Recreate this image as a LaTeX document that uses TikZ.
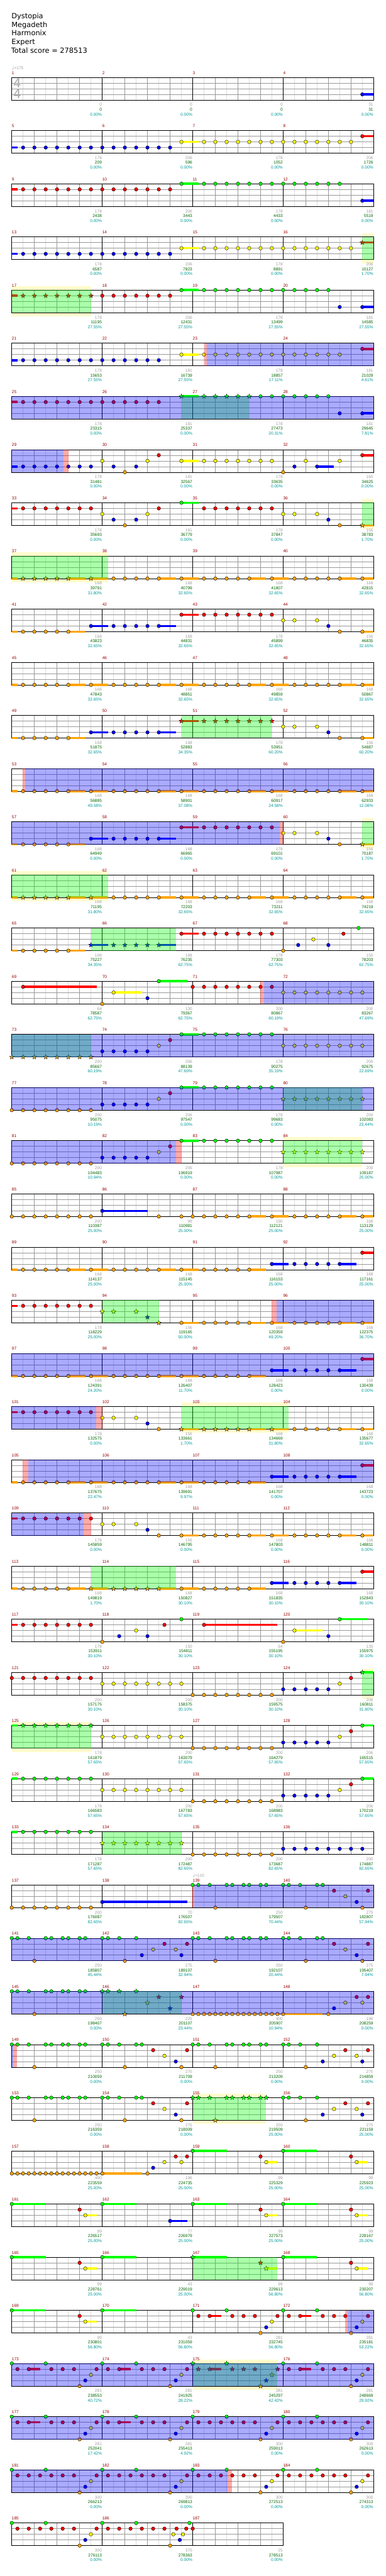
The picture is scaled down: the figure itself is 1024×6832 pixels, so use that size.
\documentclass[tikz,border=0pt]{standalone}
\usepackage{fontspec}
\setmainfont{Liberation Sans}
\newfontfamily\headfont{DejaVu Sans}
\usetikzlibrary{positioning}

\definecolor{ln0}{HTML}{00FF00}
\definecolor{ln1}{HTML}{FF0000}
\definecolor{ln2}{HTML}{FFFF00}
\definecolor{ln3}{HTML}{0000FF}
\definecolor{ln4}{HTML}{FFA500}
\definecolor{numred}{HTML}{990000}
\definecolor{ptsgray}{HTML}{A0A0A0}
\definecolor{totgreen}{HTML}{006600}
\definecolor{pctteal}{HTML}{009999}
\definecolor{beatgray}{HTML}{999999}
\definecolor{halfgray}{HTML}{DDDDDD}
\definecolor{siggray}{HTML}{AAAAAA}

\pgfdeclarelayer{bands}
\pgfdeclarelayer{glass}
\pgfsetlayers{bands,main,glass}

\tikzset{
  rowsc/.style={shift={(31.3pt,{-205.3pt-141pt*(#1-1)})},x=30pt,y=-15pt},
  gem/.style={draw=black,line width=0.7pt},
  tail/.style={line width=6pt},
  halfline/.style={halfgray,line width=1pt},
  beatline/.style={beatgray,line width=1pt},
  barline/.style={black,line width=1pt},
  smalltext/.style={inner sep=0pt,font=\fontsize{11}{11}\selectfont},
  barlabel/.style={smalltext,anchor=base west,text=numred},
  ptsnum/.style={smalltext,anchor=base east,text=ptsgray},
  totnum/.style={smalltext,anchor=base east,text=totgreen},
  pctnum/.style={smalltext,anchor=base east,text=pctteal},
  tempomark/.style={smalltext,anchor=base west,text=ptsgray},
  headline/.style={anchor=base west,inner sep=0pt,font=\headfont\fontsize{19}{19}\selectfont},
  tsig/.style={inner sep=0pt,text=siggray,font=\headfont\fontsize{33}{33}\selectfont},
  gemstar/.pic={\filldraw[fill=#1,draw=black,line width=0.5pt] (90:6.5pt) -- (126:2.7pt) -- (162:6.5pt) -- (198:2.7pt) -- (234:6.5pt) -- (270:2.7pt) -- (306:6.5pt) -- (342:2.7pt) -- (18:6.5pt) -- (54:2.7pt) -- cycle;}
}

\newcommand\staff[3]{%
  \begin{scope}[rowsc=#1]
    \pgfmathtruncatemacro\lastx{8*#3}
    \fill[white] (0,0) rectangle (\lastx,4);
    \foreach \gx in {1,3,...,\lastx} \draw[halfline] (\gx,0) -- (\gx,4);
    \foreach \gx in {2,4,...,\lastx} \draw[beatline] (\gx,0) -- (\gx,4);
    \foreach \gy in {1,2,3} \draw[beatline] (0,\gy) -- (\lastx,\gy);
    \foreach \gx in {8,16,...,\lastx} \draw[barline] (\gx,0) -- (\gx,4);
    \draw[barline] (0,0) rectangle (\lastx,4);
    \foreach \idx in {1,...,#3} {%
      \pgfmathtruncatemacro\mnum{#2+\idx-1}
      \node[barlabel] (bar\mnum) at ({8*(\idx-1)},-0.55) {\mnum};}
  \end{scope}}
\newcommand\gems[3]{\begin{scope}[rowsc=#1]
  \foreach \pos in {#3} \filldraw[gem,fill=ln#2] (\pos,#2) circle (4.7pt);
  \end{scope}}
\newcommand\stars[3]{\begin{scope}[rowsc=#1]
  \foreach \pos in {#3} \pic at (\pos,#2) {gemstar=ln#2};
  \end{scope}}
\newcommand\tails[3]{\begin{scope}[rowsc=#1]
  \foreach \from/\to in {#3} \draw[tail,ln#2] (\from,#2) -- (\to,#2);
  \end{scope}}
\newcommand\gallop[3]{%
  \foreach \start in {#3} {%
    \begin{scope}[rowsc=#1,xshift={\start*30pt}]
      \pgfmathsetmacro\hend{min(8.5,32-\start)}
      \draw[tail,ln#2] (5,#2) -- (6.5,#2);
      \draw[tail,ln#2] (7,#2) -- (\hend,#2);
      \foreach \pos in {1,2,3,4,5,7} \filldraw[gem,fill=ln#2] (\pos,#2) circle (4.7pt);
    \end{scope}}}
\newcommand\shredA[2]{\begin{scope}[rowsc=#1,xshift={#2*30pt}]
  \foreach \pos/\lane in {0/0,0.5/0,1.5/0,2/4,3/0,3.5/0,4.5/0,5/0,6/0,6.5/0,8/0,8.5/0,9.5/0,10/4,11/0,11.5/0,12.5/1,13.5/2,14.5/3,15/4,15.5/1}
    \filldraw[gem,fill=ln\lane] (\pos,\lane) circle (4.7pt);
  \end{scope}}
\newcommand\shredB[2]{\begin{scope}[rowsc=#1,xshift={#2*30pt}]
  \foreach \pos/\lane in {0/0,0.5/0,1.5/0,2/4,3/0,3.5/0,4.5/0,5/0,6/0,6.5/0,8/0,8.5/0,9.5/0,10/4,11/0,11.5/3,12.5/2,13.5/1,14.5/2,15/3,15.5/1}
    \filldraw[gem,fill=ln\lane] (\pos,\lane) circle (4.7pt);
  \end{scope}}
\newcommand\riff[2]{\begin{scope}[rowsc=#1,xshift={#2*30pt}]
  \foreach \pos/\lane in {0/0,0.5/1,1.5/1,2.5/1,3/0,3.5/1,4.5/1,5.5/1,6/4,6.5/3,7/2,7.5/1}
    \filldraw[gem,fill=ln\lane] (\pos,\lane) circle (4.7pt);
  \end{scope}}
\newcommand\riffhold[2]{\begin{scope}[rowsc=#1,xshift={#2*30pt}]
  \draw[tail,ln1] (1.5,1) -- (2.5,1);
  \foreach \pos/\lane in {0/0,0.5/1,1.5/1,3/0,3.5/1,4.5/1,5.5/1,6/4,6.5/3,7/2,7.5/1}
    \filldraw[gem,fill=ln\lane] (\pos,\lane) circle (4.7pt);
  \end{scope}}
\newcommand\spband[3]{\begin{scope}[rowsc=#1]\begin{pgfonlayer}{bands}
  \fill[yellow!20] (#2,-0.67) rectangle (#3,4.67);
  \end{pgfonlayer}\end{scope}}
\newcommand\spzone[3]{\begin{scope}[rowsc=#1]\begin{pgfonlayer}{glass}
  \fill[ln0,opacity=0.333] (#2,0) rectangle (#3,4);
  \end{pgfonlayer}\end{scope}}
\newcommand\odrive[3]{\begin{scope}[rowsc=#1]\begin{pgfonlayer}{glass}
  \fill[ln3,opacity=0.333] (#2,0) rectangle (#3,4);
  \end{pgfonlayer}\end{scope}}
\newcommand\odstart[3]{\begin{scope}[rowsc=#1]\begin{pgfonlayer}{glass}
  \fill[ln1,opacity=0.333] (#2,0) rectangle (#3,4);
  \end{pgfonlayer}\end{scope}}
\newcommand\tempo[3]{\begin{scope}[rowsc=#1]
  \node[tempomark] (tempo#1) at (#2,-1.38) {{\headfont\fontsize{13}{13}\selectfont\symbol{"2669}}=#3};
  \end{scope}}
\newcommand\scores[3]{\begin{scope}[rowsc=#1]
  \foreach \ppts/\ptot/\ppct [count=\idx] in {#3} {%
    \pgfmathtruncatemacro\mnum{#2+\idx-1}
    \node[ptsnum] (pts\mnum) at (8*\idx-0.03,5.1) {\ppts};
    \node[totnum] (tot\mnum) at (8*\idx-0.03,5.93) {\ptot};
    \node[pctnum] (pct\mnum) at (8*\idx-0.03,6.8) {\ppct\%};}
  \end{scope}}

\begin{document}
\begin{tikzpicture}[x=1pt,y=-1pt]
\begin{pgfonlayer}{bands}
  \fill[white] (0,0) rectangle (1024,6832);
\end{pgfonlayer}
\useasboundingbox (0,0) rectangle (1024,6832);

\node[headline] (song) at (30.5,49) {Dystopia};
\node[headline] (artist) at (30.5,72) {Megadeth};
\node[headline] (charter) at (30.5,95) {Harmonix};
\node[headline] (skill) at (30.5,117.5) {Expert};
\node[headline] (total) at (29.5,140.5) {Total score = 278513};

\staff{1}{1}{4}
\tempo{1}{0}{175}
\begin{scope}[rowsc=1]
  \node[tsig] (sigtop) at (0.48,0.98) {4};
  \node[tsig] (sigbot) at (0.48,2.91) {4};
\end{scope}
\tails{1}{3}{31/32}
\gems{1}{3}{31}
\scores{1}{1}{0/0/0.00,0/0/0.00,0/0/0.00,31/31/0.00}

\staff{2}{5}{4}
\tails{2}{3}{0/0.5}\tails{2}{2}{15/16.5}\tails{2}{1}{31/32}
\gems{2}{3}{1,...,14}\gems{2}{2}{15}\gems{2}{2}{17,...,30}\gems{2}{1}{31}
\scores{2}{5}{178/209/0.00,206/596/0.00,178/1052/0.00,206/1726/0.00}

\staff{3}{9}{4}
\tails{3}{1}{0/0.5}\tails{3}{0}{15/16.5}\tails{3}{3}{31/32}
\gems{3}{1}{1,...,14}\gems{3}{0}{15}\gems{3}{0}{17,...,29}\gems{3}{3}{31}
\scores{3}{9}{178/2438/0.00,206/3443/0.00,178/4433/0.00,181/5519/0.00}

\staff{4}{13}{4}
\spband{4}{31}{32}\spzone{4}{31}{32}
\tails{4}{3}{0/0.5}\tails{4}{2}{15/16.5}\tails{4}{1}{31/32}
\gems{4}{3}{1,...,14}\gems{4}{2}{15}\gems{4}{2}{17,...,30}\stars{4}{1}{31}
\scores{4}{13}{178/6587/0.00,206/7823/0.00,178/8891/0.00,206/10127/1.70}

\staff{5}{17}{4}
\spband{5}{0}{7}\spzone{5}{0}{7}
\tails{5}{1}{0/0.5}\tails{5}{0}{15/16.5}\tails{5}{3}{31/32}
\stars{5}{1}{1,...,7}\gems{5}{1}{8,...,14}\gems{5}{0}{15}\gems{5}{0}{17,...,28}\gems{5}{3}{29,31}
\scores{5}{17}{178/11195/27.55,206/12431/27.55,178/13499/27.55,181/14585/27.55}

\staff{6}{21}{4}
\odstart{6}{17}{17.25}\odrive{6}{17.25}{32}
\tails{6}{3}{0/0.5}\tails{6}{2}{15/16.5}\tails{6}{1}{31/32}
\gems{6}{3}{1,...,13}\gems{6}{2}{15}\gems{6}{2}{17,...,29}\gems{6}{1}{31}
\scores{6}{21}{178/15653/27.55,181/16739/27.55,178/18857/17.11,181/21029/4.61}

\staff{7}{25}{4}
\spzone{7}{15}{21}\odrive{7}{0}{32}
\tails{7}{1}{0/0.5}\tails{7}{0}{15/16.5}\tails{7}{3}{31/32}
\gems{7}{1}{1,...,13}\stars{7}{0}{15}\stars{7}{0}{17,...,21}\gems{7}{0}{22,...,28}\gems{7}{3}{29,31}
\scores{7}{25}{178/23315/0.00,181/25337/0.00,178/27473/20.31,181/29645/7.81}

\staff{8}{29}{4}
\odrive{8}{0}{4.57}\odstart{8}{4.57}{5}
\tails{8}{3}{0/0.5,27/28.5}\tails{8}{2}{15/16.5}\tails{8}{1}{31/32}
\gems{8}{3}{1,...,7}\gems{8}{3}{9,11,25,27}\gems{8}{2}{8,12,15,26,29}\gems{8}{2}{17,...,23}\gems{8}{4}{10,24}\gems{8}{1}{13,31}
\scores{8}{29}{178/31481/0.00,181/32567/0.00,178/33635/0.00,165/34625/0.00}

\staff{9}{33}{4}
\spband{9}{31}{32}\spzone{9}{31}{32}
\tails{9}{1}{0/0.5}\tails{9}{0}{15/16.5}\tails{9}{4}{31/32}
\gems{9}{1}{1,...,7}\gems{9}{1}{13}\gems{9}{1}{17,...,23}\gems{9}{2}{8,12,24,25,27}\gems{9}{3}{9,11,28}\gems{9}{4}{10,29}\gems{9}{0}{15}\stars{9}{4}{31}
\scores{9}{33}{178/35693/0.00,181/36779/0.00,178/37847/0.00,156/38783/1.70}

\staff{10}{37}{4}
\spband{10}{0}{8.5}\spzone{10}{0}{8.5}
\tails{10}{4}{0/0.5,5/6.5,7/8.5}
\stars{10}{4}{1,...,5}\stars{10}{4}{7}\gallop{10}{4}{8,16,24}
\scores{10}{37}{168/39791/31.80,168/40799/32.65,168/41807/32.65,168/42815/32.65}

\staff{11}{41}{4}
\tails{11}{4}{0/0.5,5/6.5,31/32}\tails{11}{3}{7/8.5,13/14.5}\tails{11}{1}{15/16.5}
\gems{11}{4}{1,...,5}\gems{11}{4}{29,31}\gems{11}{3}{7}\gems{11}{3}{9,...,13}\gems{11}{3}{28}\gems{11}{1}{15}\gems{11}{1}{17,...,23}\gems{11}{2}{24,25,27}
\scores{11}{41}{168/43823/32.65,168/44831/32.65,178/45899/32.65,156/46835/32.65}

\staff{12}{45}{4}
\tails{12}{4}{0/0.5}\gallop{12}{4}{0,8,16,24}
\scores{12}{45}{168/47843/32.65,168/48851/32.65,168/49859/32.65,168/50867/32.65}

\staff{13}{49}{4}
\spzone{13}{15}{23}
\tails{13}{4}{0/0.5,5/6.5,31/32}\tails{13}{3}{7/8.5,13/14.5}\tails{13}{1}{15/16.5}
\gems{13}{4}{1,...,5}\gems{13}{4}{29,31}\gems{13}{3}{7}\gems{13}{3}{9,...,13}\gems{13}{3}{28}\stars{13}{1}{15}\stars{13}{1}{17,...,23}\gems{13}{2}{24,25,27}
\scores{13}{49}{168/51875/32.65,168/52883/34.35,178/53951/60.20,156/54887/60.20}

\staff{14}{53}{4}
\odstart{14}{0.98}{1.2}\odrive{14}{1.2}{32}
\tails{14}{4}{0/0.5}\gallop{14}{4}{0,8,16,24}
\scores{14}{53}{168/56885/49.58,168/58901/37.08,168/60917/24.58,168/62933/12.08}

\staff{15}{57}{4}
\spband{15}{31}{32}\spzone{15}{31}{32}\odrive{15}{0}{23.7}\odstart{15}{23.7}{24}
\tails{15}{4}{0/0.5,5/6.5,31/32}\tails{15}{3}{7/8.5,13/14.5}\tails{15}{1}{15/16.5}
\gems{15}{4}{1,...,5}\gems{15}{4}{29}\gems{15}{3}{7}\gems{15}{3}{9,...,13}\gems{15}{3}{28}\gems{15}{1}{15}\gems{15}{1}{17,...,23}\gems{15}{2}{24,25,27}\stars{15}{4}{31}
\scores{15}{57}{168/64949/0.00,168/66965/0.00,178/69101/0.00,156/70187/1.70}

\staff{16}{61}{4}
\spband{16}{0}{8.5}\spzone{16}{0}{8.5}
\tails{16}{4}{0/0.5,5/6.5,7/8.5}
\stars{16}{4}{1,...,5}\stars{16}{4}{7}\gallop{16}{4}{8,16,24}
\scores{16}{61}{168/71195/31.80,168/72203/32.65,168/73211/32.65,168/74219/32.65}

\staff{17}{65}{4}
\spzone{17}{7}{14.5}
\tails{17}{4}{0/0.5,5/6.5}\tails{17}{3}{7/8.5,13/14.5}\tails{17}{1}{15/16.5}
\gems{17}{4}{1,...,5}\stars{17}{3}{7}\stars{17}{3}{9,...,13}\gems{17}{1}{15}\gems{17}{1}{17,...,23}
\gems{17}{4}{24}\gems{17}{3}{25.33,28}\gems{17}{2}{26.67}\gems{17}{1}{29.33}\gems{17}{0}{30.67}
\scores{17}{65}{168/75227/34.35,168/76235/62.75,178/77303/62.75,150/78203/62.75}

\staff{18}{69}{4}
\odstart{18}{22}{22.3}\odrive{18}{22.3}{32}
\tails{18}{1}{1/7.5}\tails{18}{2}{9/11.5}\tails{18}{0}{13/15.5}
\gems{18}{1}{1}\gems{18}{4}{8}\gems{18}{2}{9}\gems{18}{3}{12}\gems{18}{0}{13}\gems{18}{1}{16,...,23}\gems{18}{2}{24,...,31}
\scores{18}{69}{64/78587/62.75,130/79367/62.75,200/80867/60.19,200/83267/47.69}

\staff{19}{73}{4}
\spzone{19}{0}{7}\odrive{19}{0}{32}
\tails{19}{0}{15/16.5}
\stars{19}{4}{0,...,7}\gems{19}{3}{8,...,12}\gems{19}{2}{13}\gems{19}{1}{14}\gems{19}{0}{15}\gems{19}{0}{17,...,23}\gems{19}{2}{24,...,31}
\scores{19}{73}{200/85667/60.19,206/88139/47.69,178/90275/35.19,200/92675/22.69}

\staff{20}{77}{4}
\spzone{20}{24}{31}\odrive{20}{0}{32}
\tails{20}{0}{15/16.5}
\gems{20}{4}{0,...,7}\gems{20}{3}{8,...,12}\gems{20}{2}{13}\gems{20}{1}{14}\gems{20}{0}{15}\gems{20}{0}{17,...,23}\stars{20}{2}{24,...,31}
\scores{20}{77}{200/95075/10.19,206/97547/0.00,178/99683/0.00,200/102083/23.44}

\staff{21}{81}{4}
\spband{21}{24}{31}\spzone{21}{24}{31}\odrive{21}{0}{14.53}\odstart{21}{14.53}{15}
\tails{21}{0}{15/16.5}
\gems{21}{4}{0,...,7}\gems{21}{3}{8,...,12}\gems{21}{2}{13}\gems{21}{1}{14}\gems{21}{0}{15}\gems{21}{0}{17,...,23}\stars{21}{2}{24,...,31}
\scores{21}{81}{200/104483/10.94,206/106919/0.00,178/107987/0.00,200/109187/25.00}

\staff{22}{85}{4}
\tails{22}{3}{8/12}
\gems{22}{4}{0,...,7}\gems{22}{3}{8}\gems{22}{4}{13,15,16}\gallop{22}{4}{16,24}
\scores{22}{85}{200/110387/25.00,99/110981/25.00,190/112121/25.00,168/113129/25.00}

\staff{23}{89}{4}
\tails{23}{4}{0/0.5,21/22.5}\gallop{23}{4}{0,8}\gems{23}{4}{17,...,21}
\tails{23}{3}{23/24.5,29/30.5}\tails{23}{1}{31/32}\gems{23}{3}{23}\gems{23}{3}{25,...,29}\gems{23}{1}{31}
\scores{23}{89}{168/114137/25.00,168/115145/25.00,168/116153/25.00,168/117161/25.00}

\staff{24}{93}{4}
\spzone{24}{8}{13}\odstart{24}{23}{23.4}\odrive{24}{23.4}{32}
\tails{24}{1}{0/0.5}\tails{24}{4}{15/16.5}
\gems{24}{1}{1,...,7}\stars{24}{2}{8,9,11}\stars{24}{3}{12}\stars{24}{4}{13}\gems{24}{4}{15}\gallop{24}{4}{16,24}
\scores{24}{93}{178/118229/25.00,156/119165/50.00,168/120359/49.20,168/122375/36.70}

\staff{25}{97}{4}
\odrive{25}{0}{32}
\tails{25}{4}{0/0.5,21/22.5}\gallop{25}{4}{0,8}\gems{25}{4}{17,...,21}
\tails{25}{3}{23/24.5,29/30.5}\tails{25}{1}{31/32}\gems{25}{3}{23}\gems{25}{3}{25,...,29}\gems{25}{1}{31}
\scores{25}{97}{168/124391/24.20,168/126407/11.70,168/128423/0.00,168/130439/0.00}

\staff{26}{101}{4}
\spband{26}{15}{24.5}\spzone{26}{15}{24.5}\odrive{26}{0}{7.44}\odstart{26}{7.44}{8}
\tails{26}{1}{0/0.5}\tails{26}{4}{15/16.5,21/22.5,23/24.5}
\gems{26}{1}{1,...,7}\gems{26}{2}{8,9,11}\gems{26}{3}{12}\gems{26}{4}{13}\stars{26}{4}{15}\stars{26}{4}{17,...,21}\stars{26}{4}{23}\gallop{26}{4}{24}
\scores{26}{101}{178/132575/0.00,156/133661/1.70,168/134669/31.80,168/135677/32.65}

\staff{27}{105}{4}
\odstart{27}{0.98}{1.46}\odrive{27}{1.46}{32}
\tails{27}{4}{0/0.5,21/22.5}\gallop{27}{4}{0,8}\gems{27}{4}{17,...,21}
\tails{27}{3}{23/24.5,29/30.5}\tails{27}{1}{31/32}\gems{27}{3}{23}\gems{27}{3}{25,...,29}\gems{27}{1}{31}
\scores{27}{105}{168/137675/22.47,168/139691/9.97,168/141707/0.00,168/143723/0.00}

\staff{28}{109}{4}
\odrive{28}{0}{6.35}\odstart{28}{6.35}{7}
\tails{28}{1}{0/0.5}\tails{28}{4}{15/16.5}
\gems{28}{1}{1,...,7}\gems{28}{2}{8,9,11}\gems{28}{3}{12}\gems{28}{4}{13,15}\gallop{28}{4}{16,24}
\scores{28}{109}{178/145859/0.00,156/146795/0.00,168/147803/0.00,168/148811/0.00}

\staff{29}{113}{4}
\spzone{29}{7}{14.5}
\tails{29}{4}{0/0.5,5/6.5,7/8.5,13/14.5,15/16.5,21/22.5}
\gems{29}{4}{1,...,5}\stars{29}{4}{7}\stars{29}{4}{9,...,13}\gems{29}{4}{15}\gems{29}{4}{17,...,21}
\tails{29}{3}{23/24.5,29/30.5}\tails{29}{1}{31/32}\gems{29}{3}{23}\gems{29}{3}{25,...,29}\gems{29}{1}{31}
\scores{29}{113}{168/149819/1.70,168/150827/30.10,168/151835/30.10,168/152843/30.10}

\staff{30}{117}{4}
\tails{30}{1}{0/0.5,17/23.5}\tails{30}{2}{25/27.5}\tails{30}{0}{29/31.5}
\gems{30}{1}{1,...,7}\gems{30}{1}{13.5,17}\gems{30}{4}{8,24}\gems{30}{3}{9.5,12,28}\gems{30}{2}{11,25}\gems{30}{0}{15,29}
\scores{30}{117}{178/153911/30.10,150/154811/30.10,64/155195/30.10,130/155975/30.10}

\staff{31}{121}{4}
\spband{31}{31}{32}\spzone{31}{31}{32}
\tails{31}{0}{31/32}
\gems{31}{1}{0,...,7}\gems{31}{2}{8,...,15}\gems{31}{4}{16,...,23}\gems{31}{3}{24,...,28}\gems{31}{2}{29}\gems{31}{1}{30}\stars{31}{0}{31}
\scores{31}{121}{200/157175/30.10,200/158375/30.10,200/159575/30.10,206/160811/31.80}

\staff{32}{125}{4}
\spband{32}{0}{7}\spzone{32}{0}{7}
\tails{32}{0}{0/0.5,31/32}
\stars{32}{0}{1,...,7}\gems{32}{2}{8,...,15}\gems{32}{4}{16,...,23}\gems{32}{3}{24,...,28}\gems{32}{2}{29}\gems{32}{1}{30}\gems{32}{0}{31}
\scores{32}{125}{178/161879/57.65,200/163079/57.65,200/164279/57.65,206/165515/57.65}

\staff{33}{129}{4}
\tails{33}{0}{0/0.5,31/32}
\gems{33}{0}{1,...,7}\gems{33}{2}{8,...,15}\gems{33}{4}{16,...,23}\gems{33}{3}{24,...,28}\gems{33}{2}{29}\gems{33}{1}{30}\gems{33}{0}{31}
\scores{33}{129}{178/166583/57.65,200/167783/57.65,200/168983/57.65,206/170219/57.65}

\staff{34}{133}{4}
\spzone{34}{8}{15}
\tails{34}{0}{0/0.5}
\gems{34}{0}{1,...,7}\stars{34}{2}{8,...,15}\gems{34}{4}{16,...,23}\gems{34}{3}{24,...,31}
\scores{34}{133}{178/171287/57.65,200/172487/82.65,200/173687/82.65,200/174887/82.65}

\staff{35}{137}{4}
\tempo{35}{16}{110}
\begin{scope}[rowsc=35]
  \draw[numred,line width=1pt] (16,0) -- (16,4);
\end{scope}
\odstart{35}{16}{16.15}\odrive{35}{16.15}{32}
\tails{35}{3}{8/15.5}
\gems{35}{4}{0,...,7}\gems{35}{3}{8}\shredA{35}{16}
\scores{35}{137}{200/176087/82.65,70/176507/82.65,250/179507/70.44,275/182807/57.94}

\staff{36}{141}{4}
\odrive{36}{0}{32}
\shredB{36}{0}\shredA{36}{16}
\scores{36}{141}{250/185807/45.44,275/189107/32.94,250/192107/20.44,275/195407/7.94}

\staff{37}{145}{4}
\spzone{37}{8}{15}\odrive{37}{0}{32}
\tails{37}{4}{24/27.5}
\gems{37}{0}{0,0.5,1.5,3,3.5,4.5,5,6,6.5}\gems{37}{4}{2}
\stars{37}{0}{8,8.5,9.5,11}\stars{37}{4}{10}\stars{37}{2}{12}\stars{37}{1}{13,15}\stars{37}{3}{14}
\gems{37}{4}{16,16.5,...,24}\gems{37}{4}{28}\gems{37}{3}{28.5}\gems{37}{2}{29.5,31}\gems{37}{1}{30.5,31.5}
\scores{37}{145}{250/198407/0.00,225/201107/23.44,400/205907/10.94,196/208259/0.00}

\staff{38}{149}{4}
\odrive{38}{0}{0.15}\odstart{38}{0.15}{0.48}
\shredA{38}{0}\shredB{38}{16}
\scores{38}{149}{250/210059/0.00,275/211709/0.00,250/213209/0.00,275/214859/0.00}

\staff{39}{153}{4}
\spband{39}{16}{22.5}\spzone{39}{16}{22.5}
\shredA{39}{0}
\stars{39}{0}{16,16.5,17.5,19,19.5,20.5,21,22,22.5}\stars{39}{4}{18}
\gems{39}{0}{24,24.5,25.5,27}\gems{39}{4}{26}\gems{39}{3}{27.5,31}\gems{39}{2}{28.5,30.5}\gems{39}{1}{29.5,31.5}
\scores{39}{153}{250/216359/0.00,275/218009/0.00,250/219509/25.00,275/221159/25.00}

\staff{40}{157}{4}
\tails{40}{4}{8/11.5}\tails{40}{0}{16/19,24/27}\tails{40}{2}{22.5/23.5,30.5/31.5}
\gems{40}{4}{0,0.5,...,8}\gems{40}{4}{12}\gems{40}{3}{12.5}\gems{40}{2}{13.5,15,22.5,30.5}\gems{40}{1}{14.5,15.5,22,30}\gems{40}{0}{16,24}
\scores{40}{157}{400/223559/25.00,196/224735/25.00,99/225329/25.00,99/225923/25.00}

\staff{41}{161}{4}
\tails{41}{0}{0/3,8/11,16/19,24/27}\tails{41}{2}{6.5/7.5,22.5/23.5,30.5/31.5}\tails{41}{3}{14/15.5}
\gems{41}{0}{0,8,16,24}\gems{41}{1}{6,22,30}\gems{41}{2}{6.5,22.5,30.5}\gems{41}{3}{14}
\scores{41}{161}{99/226517/25.00,77/226979/25.00,99/227573/25.00,99/228167/25.00}

\staff{42}{165}{4}
\spzone{42}{16}{23.5}
\tails{42}{0}{0/3,8/11,16/19,24/27}\tails{42}{2}{6.5/7.5,22.5/23.5,30.5/31.5}
\gems{42}{0}{0,8,24}\gems{42}{1}{6,30}\gems{42}{2}{6.5,30.5}\stars{42}{0}{16}\stars{42}{1}{22}\stars{42}{2}{22.5}
\scores{42}{165}{99/228761/25.00,43/229019/25.00,99/229613/56.80,99/230207/56.80}

\staff{43}{169}{4}
\odstart{43}{29.5}{29.68}\odrive{43}{29.68}{32}
\tails{43}{0}{0/3,8/11}\tails{43}{2}{6.5/7.5}
\gems{43}{0}{0,8}\gems{43}{1}{6}\gems{43}{2}{6.5}
\riffhold{43}{16}\riffhold{43}{24}
\scores{43}{169}{99/230801/56.80,43/231059/56.80,281/232745/56.80,281/235181/53.22}

\staff{44}{173}{4}
\spband{44}{16}{23.5}\spzone{44}{16}{23.5}\odrive{44}{0}{32}
\riffhold{44}{0}\riffhold{44}{8}
\tails{44}{1}{17.5/18.5}
\stars{44}{0}{16,19}\stars{44}{1}{16.5,17.5,19.5,20.5,21.5,23.5}\stars{44}{4}{22}\stars{44}{3}{22.5}\stars{44}{2}{23}
\riffhold{44}{24}
\scores{44}{173}{281/238553/40.72,281/241925/28.22,281/245297/42.42,281/248669/29.92}

\staff{45}{177}{4}
\odrive{45}{0}{32}
\riffhold{45}{0}\riffhold{45}{8}\riff{45}{16}\riff{45}{24}
\scores{45}{177}{281/252041/17.42,281/255413/4.92,300/259013/0.00,300/262613/0.00}

\staff{46}{181}{4}
\odrive{46}{0}{19.08}\odstart{46}{19.08}{19.45}
\riff{46}{0}\riff{46}{8}\riff{46}{16}\riff{46}{24}
\scores{46}{181}{300/266213/0.00,300/269813/0.00,300/272513/0.00,300/274313/0.00}

\staff{47}{185}{3}
\riff{47}{0}
\gems{47}{0}{8,11,15.714}\gems{47}{1}{8.5,9.5,10.5,11.5,12.5,13.5,14.571,15.429,16}\gems{47}{4}{14}\gems{47}{2}{14.286,15.143}\gems{47}{3}{14.857}
\scores{47}{185}{300/276113/0.00,375/278363/0.00,25/278513/0.00}
\end{tikzpicture}
\end{document}
